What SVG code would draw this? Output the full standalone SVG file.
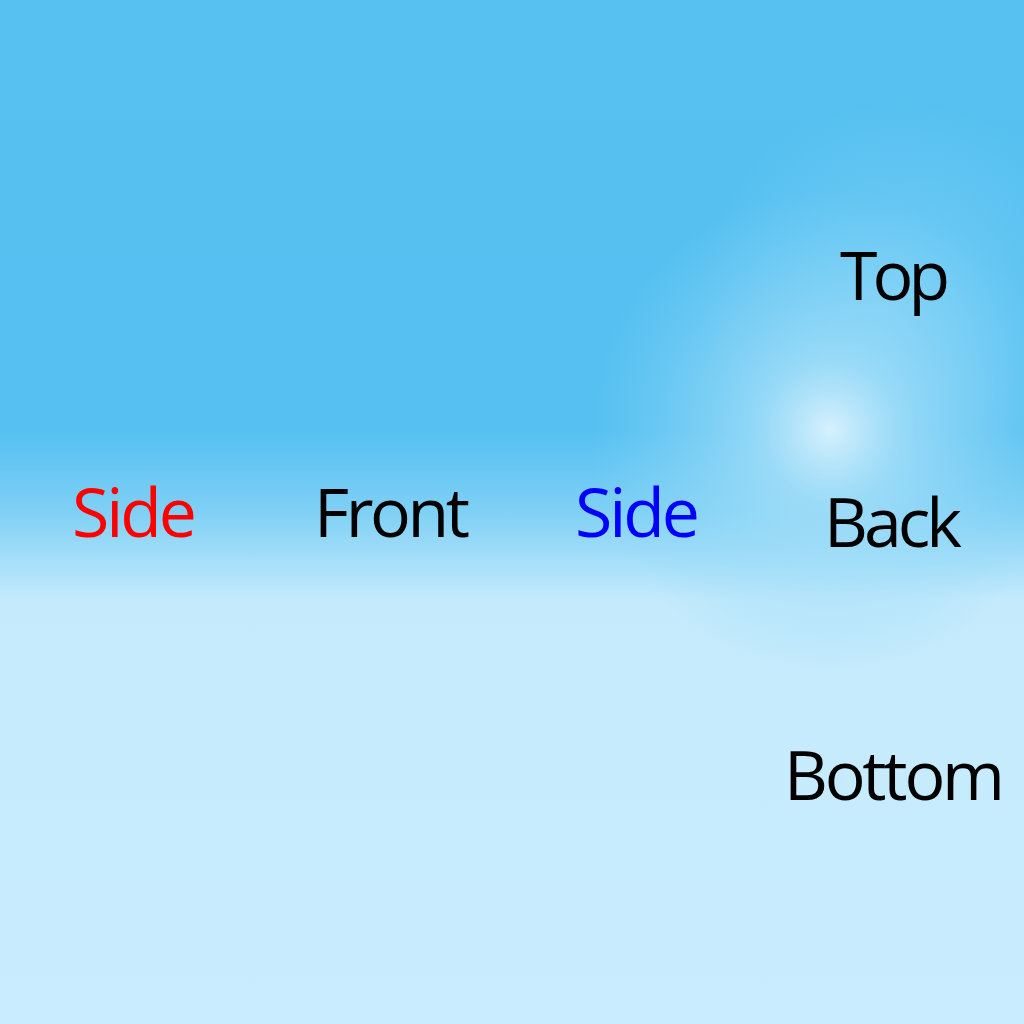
<svg xmlns="http://www.w3.org/2000/svg" width="1024" height="1024" viewBox="0 0 1024 1024">
<defs>
<linearGradient id="sky" x1="0" y1="0" x2="0" y2="1024" gradientUnits="userSpaceOnUse">
<stop offset="0" stop-color="#57c1f1"/>
<stop offset="0.42" stop-color="#55c0f1"/>
<stop offset="0.50" stop-color="#7fd0f5"/>
<stop offset="0.585" stop-color="#c4eafc"/>
<stop offset="1" stop-color="#c9edfe"/>
</linearGradient>
<radialGradient id="glow" cx="830" cy="430" r="240" gradientUnits="userSpaceOnUse">
<stop offset="0" stop-color="#d6f1fd" stop-opacity="1"/>
<stop offset="0.3" stop-color="#a8e0f9" stop-opacity="0.75"/>
<stop offset="1" stop-color="#8ad6f7" stop-opacity="0"/>
</radialGradient>
<radialGradient id="glow2" cx="900" cy="300" r="200" gradientUnits="userSpaceOnUse">
<stop offset="0" stop-color="#8fd8f8" stop-opacity="0.5"/>
<stop offset="1" stop-color="#8fd8f8" stop-opacity="0"/>
</radialGradient>
<style>
.lbl{font-family:"Open Sans","Noto Sans",sans-serif;font-size:68px}
</style>
</defs>
<rect width="1024" height="1024" fill="url(#sky)"/>
<rect width="1024" height="1024" fill="url(#glow2)"/>
<rect width="1024" height="1024" fill="url(#glow)"/>
<g id="side-left"><text class="lbl" x="72" y="537" fill="#ff0000" textLength="125">Side</text></g>
<g id="front"><text class="lbl" x="314" y="537" fill="#000000" textLength="156">Front</text></g>
<g id="side-right"><text class="lbl" x="575" y="537" fill="#0000ff" textLength="125">Side</text></g>
<g id="top"><text class="lbl" x="840" y="300" fill="#000000" textLength="110">Top</text></g>
<g id="back"><text class="lbl" x="824" y="547" fill="#000000" textLength="138">Back</text></g>
<g id="bottom"><text class="lbl" x="784" y="800" fill="#000000" textLength="221">Bottom</text></g>
</svg>
